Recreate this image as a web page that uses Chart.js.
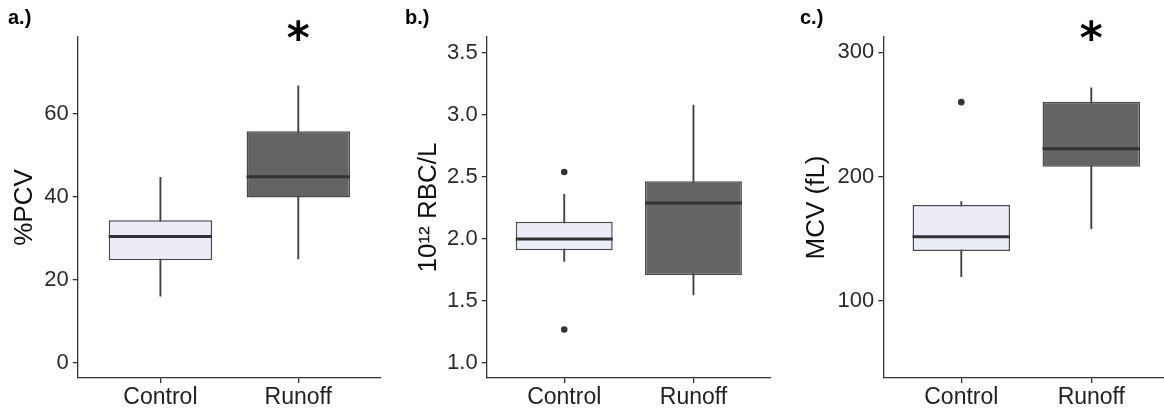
<!DOCTYPE html>
<html>
<head>
<meta charset="utf-8">
<script src="https://cdn.jsdelivr.net/npm/chart.js@4"></script>
<style>
  html, body { margin: 0; padding: 0; background: #fff; }
  #wrap { position: relative; width: 1164px; height: 414px; overflow: hidden; }
  .panel { position: absolute; top: 0; height: 414px; }
</style>
</head>
<body>
<div id="wrap">
  <div class="panel" style="left:0px;width:390px"><canvas id="chartA"></canvas></div>
  <div class="panel" style="left:390px;width:385px"><canvas id="chartB"></canvas></div>
  <div class="panel" style="left:775px;width:400px"><canvas id="chartC"></canvas></div>
</div>
<script>
// groups on the x axis
var groups = ['Control', 'Runoff'];

// a.) %PCV
var pcvLow = [16.0, 25.0];
var pcvQ1 = [24.7, 39.8];
var pcvMed = [30.4, 44.8];
var pcvQ3 = [34.3, 55.8];
var pcvHigh = [44.7, 66.7];
var pcvOutliers = [];
var pcvSig = ['', '*'];
var pcvTicks = [0, 20, 40, 60];

// b.) 10^12 RBC/L
var rbcLow = [1.82, 1.55];
var rbcQ1 = [1.91, 1.71];
var rbcMed = [2.00, 2.29];
var rbcQ3 = [2.14, 2.465];
var rbcHigh = [2.36, 3.08];
var rbcOutliers = [['Control', 2.54], ['Control', 1.27]];
var rbcSig = ['', ''];
var rbcTicks = [1.0, 1.5, 2.0, 2.5, 3.0, 3.5];

// c.) MCV (fL)
var mcvLow = [119.5, 158.2];
var mcvQ1 = [140.2, 208.0];
var mcvMed = [151.7, 222.5];
var mcvQ3 = [177.2, 260.3];
var mcvHigh = [179.9, 271.5];
var mcvOutliers = [['Control', 259.9]];
var mcvSig = ['', '*'];
var mcvTicks = [100, 200, 300];

var boxFill = ['#ECECF6', '#646464'];
var dark = '#333333';

Chart.defaults.font.family = "'Liberation Sans', Arial, sans-serif";
Chart.defaults.color = dark;

function pts(vals) {
    return vals.map(function (v, i) { return {x: i + 1, y: v}; });
}

function makePanel(id, p) {
    var ctx = document.getElementById(id).getContext('2d');
    var boxes = p.q1.map(function (v, i) { return {x: i + 1, y: [v, p.q3[i]]}; });
    var whiskers = p.low.map(function (v, i) { return {x: i + 1, y: [v, p.high[i]]}; });
    var outs = p.outliers.map(function (o) { return {x: groups.indexOf(o[0]) + 1, y: o[1]}; });

    return new Chart(ctx, {
        data: {
            datasets: [{
                type: 'line',
                data: pts(p.med),
                showLine: false,
                pointStyle: 'line',
                pointRadius: function (c) {
                    var s = c.chart.scales.x;
                    return 0.375 * (s.getPixelForValue(2) - s.getPixelForValue(1));
                },
                pointBorderColor: dark,
                pointBorderWidth: 3,
                order: 0
            }, {
                type: 'line',
                data: outs,
                showLine: false,
                pointRadius: 3.3,
                pointBackgroundColor: dark,
                pointBorderWidth: 0,
                order: 1
            }, {
                type: 'bar',
                data: boxes,
                backgroundColor: boxFill,
                borderColor: '#4a4a4a',
                borderWidth: 1.5,
                borderSkipped: false,
                barPercentage: 0.75,
                categoryPercentage: 1,
                grouped: false,
                order: 2
            }, {
                type: 'bar',
                data: whiskers,
                backgroundColor: '#404040',
                barThickness: 1.2,
                grouped: false,
                order: 3
            }]
        },
        options: {
            responsive: true,
            maintainAspectRatio: false,
            animation: false,
            events: [],
            layout: { padding: { left: p.padLeft, right: p.padRight, top: 0, bottom: 0 } },
            plugins: {
                legend: { display: false },
                tooltip: { enabled: false },
                title: {
                    display: true,
                    text: p.label,
                    align: 'start',
                    color: '#000',
                    font: { size: 20, weight: 'bold', lineHeight: 1 },
                    padding: { top: 8, bottom: 9 }
                }
            },
            scales: {
                x: {
                    type: 'linear',
                    offset: false,
                    min: 0.4,
                    max: 2.6,
                    afterBuildTicks: function (s) { s.ticks = [{value: 1}, {value: 2}]; },
                    afterFit: function (s) { s.height = 36; },
                    ticks: {
                        callback: function (v) { return groups[v - 1]; },
                        font: { size: 23 },
                        color: '#222',
                        padding: 1,
                        maxRotation: 0
                    },
                    grid: { drawOnChartArea: false, offset: false, tickLength: 5, color: dark, lineWidth: 1.3 },
                    border: { color: dark, width: 1.3 }
                },
                x2: {
                    type: 'linear',
                    position: 'top',
                    offset: false,
                    min: 0.4,
                    max: 2.6,
                    afterBuildTicks: function (s) { s.ticks = [{value: 1}, {value: 2}]; },
                    afterFit: function (s) { s.height = 0; },
                    ticks: {
                        callback: function (v) { return p.sig[v - 1]; },
                        font: { family: "'DejaVu Sans', sans-serif", size: 44, weight: 'bold', lineHeight: 1 },
                        color: '#000',
                        mirror: true,
                        padding: -17,
                        maxRotation: 0
                    },
                    grid: { display: false, drawTicks: false },
                    border: { display: false }
                },
                y: {
                    type: 'linear',
                    min: p.yMin,
                    max: p.yMax,
                    afterBuildTicks: function (s) {
                        s.ticks = p.ticks.map(function (v) { return {value: v}; });
                    },
                    afterFit: function (s) { s.width = p.yWidth; },
                    ticks: {
                        callback: p.fmt,
                        font: { size: 22 },
                        color: '#2b2b2b',
                        padding: 4
                    },
                    grid: { drawOnChartArea: false, tickLength: 5, color: dark, lineWidth: 1.3 },
                    border: { color: dark, width: 1.3 },
                    title: {
                        display: true,
                        text: p.yTitle,
                        font: { size: 26 },
                        color: '#111',
                        padding: { top: p.titlePad, bottom: 0 }
                    }
                }
            }
        }
    });
}

makePanel('chartA', {
    low: pcvLow, q1: pcvQ1, med: pcvMed, q3: pcvQ3, high: pcvHigh,
    outliers: pcvOutliers, sig: pcvSig, ticks: pcvTicks,
    fmt: function (v) { return String(v); },
    label: 'a.)', yTitle: '%PCV',
    yMin: -3.7, yMax: 78.5,
    padLeft: 8, padRight: 9, yWidth: 69.7, titlePad: 1
});

makePanel('chartB', {
    low: rbcLow, q1: rbcQ1, med: rbcMed, q3: rbcQ3, high: rbcHigh,
    outliers: rbcOutliers, sig: rbcSig, ticks: rbcTicks,
    fmt: function (v) { return v.toFixed(1); },
    label: 'b.)', yTitle: '10¹² RBC/L',
    yMin: 0.879, yMax: 3.629,
    padLeft: 15, padRight: 4, yWidth: 81.7, titlePad: 8
});

makePanel('chartC', {
    low: mcvLow, q1: mcvQ1, med: mcvMed, q3: mcvQ3, high: mcvHigh,
    outliers: mcvOutliers, sig: mcvSig, ticks: mcvTicks,
    fmt: function (v) { return String(v); },
    label: 'c.)', yTitle: 'MCV (fL)',
    yMin: 38.1, yMax: 312.3,
    padLeft: 25, padRight: 5.7, yWidth: 83.3, titlePad: 1
});
</script>
</body>
</html>
